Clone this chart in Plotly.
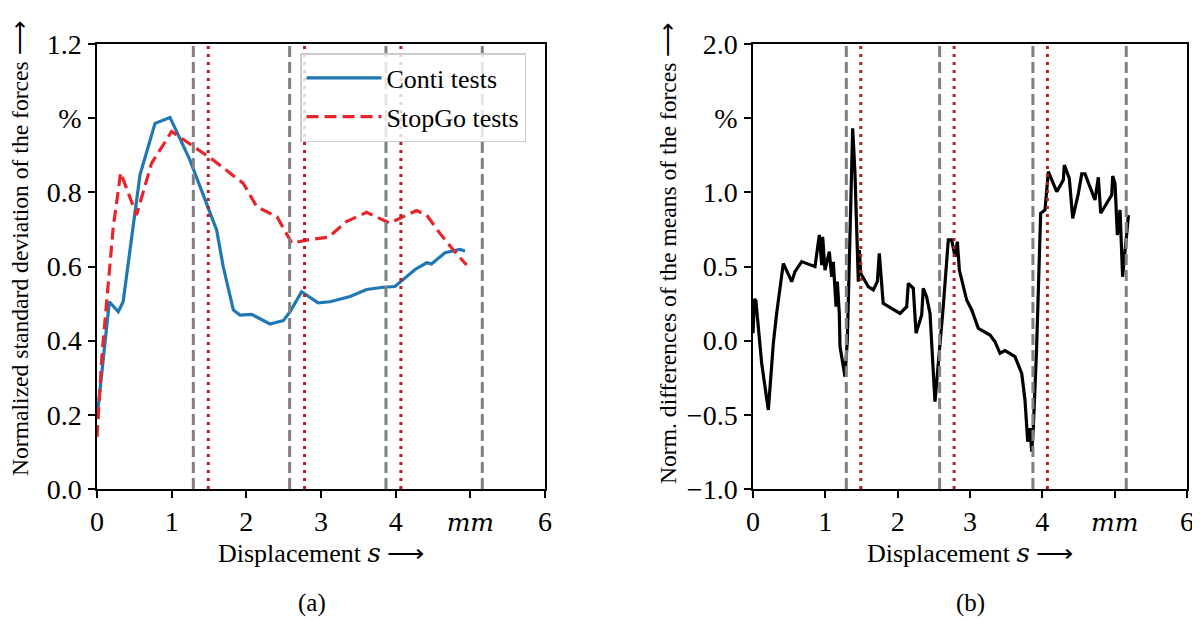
import plotly.graph_objects as go

# ---------------- data ----------------
conti_x = [0.0, 0.165, 0.285, 0.35, 0.576, 0.777, 0.978, 1.245, 1.603, 1.69,
           1.826, 1.915, 2.07, 2.317, 2.495, 2.585, 2.74, 2.96, 3.12, 3.39,
           3.61, 3.83, 3.99, 4.26, 4.415, 4.48, 4.66, 4.86, 4.93]
conti_y = [0.19, 0.505, 0.478, 0.505, 0.847, 0.986, 1.002, 0.887, 0.698, 0.60,
           0.483, 0.469, 0.471, 0.445, 0.454, 0.478, 0.532, 0.502, 0.505, 0.519,
           0.538, 0.544, 0.546, 0.592, 0.61, 0.607, 0.637, 0.646, 0.642]

stopgo_x = [0.0, 0.07, 0.218, 0.317, 0.53, 0.73, 1.0, 1.29, 1.557, 1.96,
            2.14, 2.41, 2.61, 2.85, 3.10, 3.34, 3.61, 3.92, 4.28, 4.415,
            4.59, 4.77, 4.95]
stopgo_y = [0.14, 0.37, 0.707, 0.853, 0.739, 0.878, 0.964, 0.923, 0.887, 0.824,
            0.761, 0.734, 0.663, 0.673, 0.679, 0.721, 0.746, 0.717, 0.751, 0.739,
            0.69, 0.645, 0.604]

means_x = [0.0, 0.02, 0.04, 0.12, 0.212, 0.281, 0.327, 0.373, 0.419, 0.535,
           0.58, 0.673, 0.742, 0.857, 0.917, 0.95, 0.963, 0.995, 1.055, 1.088,
           1.11, 1.148, 1.166, 1.193, 1.203, 1.272, 1.304, 1.341, 1.378, 1.41,
           1.456, 1.47, 1.489, 1.594, 1.663, 1.719, 1.746, 1.80, 2.032, 2.125,
           2.147, 2.216, 2.254, 2.332, 2.354, 2.40, 2.447, 2.516, 2.585, 2.63,
           2.70, 2.747, 2.793, 2.825, 2.853, 2.954, 3.024, 3.115, 3.277, 3.346,
           3.415, 3.484, 3.622, 3.715, 3.76, 3.798, 3.83, 3.853, 3.875, 3.92,
           3.977, 4.037, 4.083, 4.199, 4.29, 4.304, 4.373, 4.42, 4.498, 4.545,
           4.59, 4.728, 4.774, 4.807, 4.959, 4.973, 5.005, 5.037, 5.074, 5.11,
           5.167, 5.19]
means_y = [0.05, 0.28, 0.27, -0.153, -0.467, -0.018, 0.184, 0.364, 0.521, 0.398,
           0.465, 0.533, 0.52, 0.499, 0.713, 0.51, 0.70, 0.476, 0.60, 0.43,
           0.532, 0.229, 0.398, 0.184, -0.04, -0.243, 0.004, 0.836, 1.431, 1.128,
           0.398, 0.611, 0.454, 0.364, 0.342, 0.398, 0.589, 0.252, 0.184, 0.229,
           0.386, 0.353, 0.05, 0.173, 0.353, 0.296, 0.184, -0.411, -0.04, 0.229,
           0.679, 0.679, 0.566, 0.667, 0.476, 0.274, 0.207, 0.083, 0.038, -0.007,
           -0.085, -0.067, -0.108, -0.22, -0.40, -0.681, -0.59, -0.748, -0.59, -0.063,
           0.859, 0.881, 1.139, 1.004, 1.083, 1.184, 1.094, 0.825, 0.993, 1.124,
           1.124, 0.948, 1.101, 0.859, 0.982, 1.11, 1.06, 0.712, 0.881, 0.431,
           0.724, 0.847]

stop_positions = [1.29, 2.58, 3.87, 5.16]      # grey dashed
restart_positions = [1.49, 2.78, 4.07]         # red dotted

x_tickvals = [0, 1, 2, 3, 4, 5, 6]
x_ticktext = ["0", "1", "2", "3", "4",
              "<span style=\"font-family:'DejaVu Serif';font-size:25px\"><i>mm</i></span>", "6"]
y1_tickvals = [0.0, 0.2, 0.4, 0.6, 0.8, 1.0, 1.2]
y1_ticktext = ["0.0", "0.2", "0.4", "0.6", "0.8", "%", "1.2"]
y2_tickvals = [-1.0, -0.5, 0.0, 0.5, 1.0, 1.5, 2.0]
y2_ticktext = ["\u22121.0", "\u22120.5", "0.0", "0.5", "1.0", "%", "2.0"]

# ---------------- figure ----------------
FONT = "Liberation Serif"
OFF = 8                    # default body margin of the html page
W, H = 1200 - OFF, 620 - OFF

fig = go.Figure()
fig.add_trace(go.Scatter(x=conti_x, y=conti_y, mode="lines", name="Conti tests",
                         legendgroup="a",
                         line=dict(color="#1f77b4", width=3.2),
                         xaxis="x", yaxis="y"))
fig.add_trace(go.Scatter(x=stopgo_x, y=stopgo_y, mode="lines", name="StopGo tests",
                         legendgroup="b",
                         line=dict(color="#e8252a", width=3.2, dash="12px,6px"),
                         xaxis="x", yaxis="y"))
fig.add_trace(go.Scatter(x=means_x, y=means_y, mode="lines", showlegend=False,
                         line=dict(color="black", width=3.2),
                         xaxis="x2", yaxis="y2"))

for xr, yr in (("x", "y"), ("x2", "y2")):
    for p in stop_positions:
        fig.add_shape(type="line", xref=xr, yref=yr + " domain", x0=p, x1=p, y0=0, y1=1,
                      line=dict(color="#808080", width=3, dash="11px,5px"), layer="above")
    for p in restart_positions:
        fig.add_shape(type="line", xref=xr, yref=yr + " domain", x0=p, x1=p, y0=0, y1=1,
                      line=dict(color="#b22222", width=3, dash="3px,5px"), layer="above")

def px_x(p):
    return (p - OFF) / W

def px_y(p):
    return 1 - (p - OFF) / H

axis_common = dict(showline=True, linecolor="black", linewidth=1.5, mirror=True,
                   ticks="outside", ticklen=7, tickwidth=1.5, tickcolor="black",
                   showgrid=False, zeroline=False, automargin=False,
                   tickfont=dict(family=FONT, size=28, color="black"))

fig.update_layout(
    template="none",
    width=W, height=H,
    margin=dict(l=0, r=0, t=0, b=0, autoexpand=False),
    paper_bgcolor="white", plot_bgcolor="white",
    font=dict(family=FONT, size=25, color="black"),
    xaxis=dict(domain=[px_x(97), px_x(545)], range=[0, 6], anchor="y",
               tickvals=x_tickvals, ticktext=x_ticktext, ticklabelstandoff=0,
               **axis_common),
    yaxis=dict(domain=[px_y(489), px_y(44)], range=[0, 1.2], anchor="x",
               tickvals=y1_tickvals, ticktext=y1_ticktext, ticklabelstandoff=1,
               **axis_common),
    xaxis2=dict(domain=[px_x(753), px_x(1187)], range=[0, 6], anchor="y2",
                tickvals=x_tickvals, ticktext=x_ticktext, ticklabelstandoff=0,
                **axis_common),
    yaxis2=dict(domain=[px_y(489), px_y(44)], range=[-1, 2], anchor="x2",
                tickvals=y2_tickvals, ticktext=y2_ticktext, ticklabelstandoff=1,
                **axis_common),
    showlegend=True,
    legend=dict(x=px_x(300), y=px_y(53), xanchor="left", yanchor="top",
                bgcolor="rgba(255,255,255,0.8)", bordercolor="#cccccc", borderwidth=1.5,
                font=dict(family=FONT, size=26, color="black"),
                itemwidth=75, tracegroupgap=2),
)

xtitle = "Displacement <span style=\"font-family:'DejaVu Serif'\"><i>s</i></span> \u27f6"
annots = [
    dict(x=px_x(321), y=px_y(553), text=xtitle, size=26),
    dict(x=px_x(970), y=px_y(553), text=xtitle, size=26),
    dict(x=px_x(312), y=px_y(603), text="(a)", size=25),
    dict(x=px_x(970), y=px_y(603), text="(b)", size=25),
    dict(x=px_x(20), y=px_y(249), text="Normalized standard deviation of the forces \u27f6",
         textangle=-90, size=23.6),
    dict(x=px_x(668), y=px_y(254), text="Norm. differences of the means of the forces \u27f6",
         textangle=-90, size=23.6),
]
for a in annots:
    sz = a.pop("size")
    fig.add_annotation(xref="paper", yref="paper", showarrow=False,
                       xanchor="center", yanchor="middle",
                       font=dict(family=FONT, size=sz, color="black"), **a)

fig.write_html("out.html")
